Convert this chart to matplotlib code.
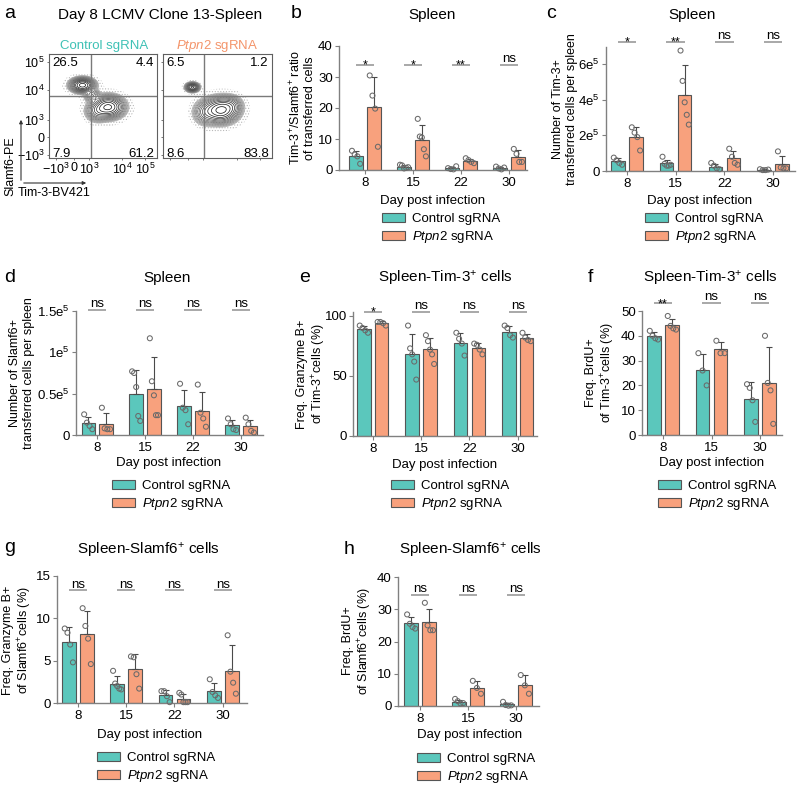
import numpy as np
import matplotlib
matplotlib.use('Agg')
import matplotlib.pyplot as plt
from matplotlib.patches import Patch, FancyArrowPatch

plt.rcParams['font.family'] = ['Liberation Sans', 'DejaVu Sans']
plt.rcParams['mathtext.fontset'] = 'custom'
plt.rcParams['mathtext.rm'] = 'Liberation Sans'
plt.rcParams['mathtext.it'] = 'Liberation Sans:italic'
plt.rcParams['mathtext.bf'] = 'Liberation Sans:bold'
plt.rcParams['font.size'] = 9
plt.rcParams['hatch.linewidth'] = 0.5
plt.rcParams['hatch.color'] = '#b8b8b8'

# ---------------- data ----------------
days4 = ['8', '15', '22', '30']
days3 = ['8', '15', '30']
group_labels = ['Control sgRNA', r'$\mathit{Ptpn2}$ sgRNA']

# panel a: flow quadrant percentages (UL, UR, LL, LR)
flow_ctrl_pct = ['26.5', '4.4', '7.9', '61.2']
flow_ptpn_pct = ['6.5', '1.2', '8.6', '83.8']
# contour populations: centre x, centre y, spread x, spread y, weight (plot-fraction units)
flow_ctrl_cx = [0.31, 0.55, 0.45, 0.40]
flow_ctrl_cy = [0.70, 0.49, 0.45, 0.60]
flow_ctrl_sx = [0.050, 0.065, 0.050, 0.035]
flow_ctrl_sy = [0.031, 0.048, 0.045, 0.030]
flow_ctrl_w = [0.265, 0.50, 0.10, 0.03]
flow_ptpn_cx = [0.27, 0.53, 0.40, 0.62]
flow_ptpn_cy = [0.68, 0.46, 0.44, 0.50]
flow_ptpn_sx = [0.028, 0.070, 0.055, 0.050]
flow_ptpn_sy = [0.020, 0.055, 0.055, 0.045]
flow_ptpn_w = [0.065, 0.64, 0.12, 0.08]
flow_xtick_labels = [r'$-10^{3}$', '0', r'$10^{3}$', r'$10^{4}$', r'$10^{5}$']
flow_ytick_labels = [r'$-10^{3}$', '0', r'$10^{3}$', r'$10^{4}$', r'$10^{5}$']

# panel b: Tim-3+/Slamf6+ ratio
b_ctrl = [[6.2, 5.0, 4.4, 2.0], [1.7, 1.5, 0.5, 0.7, 0.9], [0.6, 0.3, 0.2, 1.2], [1.1, 0.5, 0.2, 0.8]]
b_ptpn = [[30.5, 24.0, 19.8, 7.5], [16.5, 10.8, 10.5, 6.7, 4.4], [3.8, 3.2, 2.6, 2.2], [6.8, 5.2, 2.6, 2.6]]
b_sig = ['*', '*', '**', 'ns']

# panel c: number of Tim-3+ transferred cells
c_ctrl = [[0.75e5, 0.60e5, 0.45e5, 0.35e5], [0.80e5, 0.40e5, 0.30e5, 0.30e5, 0.35e5],
          [0.45e5, 0.30e5, 0.15e5, 0.10e5], [0.10e5, 0.05e5, 0.05e5, 0.08e5]]
c_ptpn = [[2.45e5, 2.15e5, 1.90e5, 1.15e5], [6.75e5, 5.05e5, 3.85e5, 3.15e5, 2.60e5],
          [1.25e5, 0.80e5, 0.45e5, 0.35e5], [1.10e5, 0.20e5, 0.15e5, 0.15e5]]
c_sig = ['*', '**', 'ns', 'ns']
c_yticks = [0, 2e5, 4e5, 6e5]
c_yticklabels = ['0', r'2e$^{5}$', r'4e$^{5}$', r'6e$^{5}$']

# panel d: number of Slamf6+ transferred cells
d_ctrl = [[0.25e5, 0.15e5, 0.11e5, 0.07e5], [0.77e5, 0.75e5, 0.58e5, 0.23e5, 0.17e5],
          [0.62e5, 0.33e5, 0.30e5, 0.13e5], [0.20e5, 0.13e5, 0.07e5, 0.06e5]]
d_ptpn = [[0.33e5, 0.08e5, 0.07e5, 0.07e5], [1.17e5, 0.65e5, 0.48e5, 0.24e5, 0.24e5],
          [0.61e5, 0.27e5, 0.20e5, 0.10e5], [0.21e5, 0.13e5, 0.05e5, 0.03e5]]
d_sig = ['ns', 'ns', 'ns', 'ns']
d_yticks = [0, 0.5e5, 1e5, 1.5e5]
d_yticklabels = ['0', r'0.5e$^{5}$', r'1e$^{5}$', r'1.5e$^{5}$']

# panel e: Granzyme B+ of Tim-3+ (%)
e_ctrl = [[92, 90, 88, 86], [92, 73, 68, 62, 47], [86, 81, 77, 67], [92, 90, 84, 82]]
e_ptpn = [[95, 95, 94, 92], [84, 79, 72, 68, 60], [77, 76, 72, 68], [86, 82, 80, 79]]
e_sig = ['*', 'ns', 'ns', 'ns']

# panel f: BrdU+ of Tim-3+ (%)
f_ctrl = [[42, 40, 39, 38.5], [33, 26, 20], [20.5, 19, 14, 5.3]]
f_ptpn = [[48, 44, 43, 42.5], [38, 33, 33], [40, 21, 18, 4.5]]
f_sig = ['**', 'ns', 'ns']

# panel g: Granzyme B+ of Slamf6+ (%)
g_ctrl = [[8.8, 8.3, 6.9, 4.8], [3.8, 2.3, 2.0, 1.7, 1.6], [1.4, 1.4, 0.8, 0.1], [2.8, 1.3, 0.9, 0.6]]
g_ptpn = [[11.2, 9.1, 7.6, 4.6], [5.5, 5.4, 3.4, 1.7], [1.2, 1.0, 0.1, 0.1, 0.1], [8.0, 3.7, 2.4, 1.1]]
g_sig = ['ns', 'ns', 'ns', 'ns']

# panel h: BrdU+ of Slamf6+ (%)
h_ctrl = [[28.4, 25.5, 24.5, 24.0], [2.2, 1.5, 0.8, 0.9], [1.3, 0.3, 0.1, 0.2]]
h_ptpn = [[32, 25, 23.5, 23.5], [7.8, 5.6, 3.8], [9.6, 6.4, 3.8]]
h_sig = ['ns', 'ns', 'ns']

# ---------------- style ----------------
TEAL = '#5BC7BC'
ORANGE = '#F8A17D'
TEAL_TXT = '#3EC1B5'
ORANGE_TXT = '#F4956B'
EDGE = '#555555'
SPINE = '#808080'
BW = 0.28
OFF = 0.185

W, H = 800, 789
fig = plt.figure(figsize=(8, 7.89), dpi=100)


def fx(x):
    return x / W


def fy(y):
    return 1 - y / H


def ftext(x, y, s, **kw):
    return fig.text(fx(x), fy(y), s, **kw)


def add_axes(L, R, T, B):
    return fig.add_axes([L / W, 1 - B / H, (R - L) / W, (B - T) / H])


def bar_panel(box, days, ctrl, ptpn, ylim, xlim, sigs, sig_y, yticks=None, yticklabels=None):
    ax = add_axes(*box)
    x = np.arange(len(days))
    for data, off, col in [(ctrl, -OFF, TEAL), (ptpn, OFF, ORANGE)]:
        for i, pts in enumerate(data):
            pts = np.asarray(pts, float)
            m = pts.mean()
            sd = pts.std(ddof=1)
            ax.bar(x[i] + off, m, width=BW, color=col, edgecolor=EDGE, linewidth=0.8, zorder=2)
            ax.errorbar(x[i] + off, m, yerr=[[0], [sd]], fmt='none', ecolor='#4a4a4a',
                        elinewidth=0.8, capsize=2.5, capthick=0.8, zorder=3)
            jit = np.linspace(-0.085, 0.085, len(pts))
            ax.scatter(x[i] + off + jit, pts, s=13, facecolors='none', edgecolors='#6a6a6a',
                       linewidths=0.75, zorder=4, clip_on=False)
    ax.set_xlim(*xlim)
    ax.set_ylim(*ylim)
    ax.set_xticks(x)
    ax.set_xticklabels(days)
    if yticks is not None:
        ax.set_yticks(yticks)
        ax.set_yticklabels(yticklabels)
    for s in ['top', 'right']:
        ax.spines[s].set_visible(False)
    for s in ['left', 'bottom']:
        ax.spines[s].set_color(SPINE)
        ax.spines[s].set_linewidth(1.0)
    ax.tick_params(direction='out', length=3, width=0.8, color=SPINE, labelsize=9.5, pad=2)
    ax.tick_params(axis='y', pad=1.5)
    for i, s in enumerate(sigs):
        ax.plot([x[i] - 0.19, x[i] + 0.19], [sig_y, sig_y], color='#9a9a9a', lw=1.2,
                clip_on=False, solid_capstyle='butt')
        if s == 'ns':
            ax.annotate(s, (x[i], sig_y), xytext=(0, 2), textcoords='offset points',
                        ha='center', va='baseline', fontsize=9.5, annotation_clip=False)
        else:
            ax.annotate(s, (x[i], sig_y), xytext=(0, -2.8), textcoords='offset points',
                        ha='center', va='baseline', fontsize=9, annotation_clip=False)
    return ax


def legend_at(px, py_center):
    handles = [Patch(facecolor=TEAL, edgecolor=EDGE, linewidth=0.8),
               Patch(facecolor=ORANGE, edgecolor=EDGE, linewidth=0.8)]
    fig.legend(handles, group_labels, loc='upper left', bbox_to_anchor=(fx(px), fy(py_center - 7)),
               bbox_transform=fig.transFigure, frameon=False, borderpad=0, borderaxespad=0,
               handlelength=1.75, handleheight=0.65, handletextpad=0.5, labelspacing=0.3,
               fontsize=9.5)


def flow_panel(box, cx, cy, sx, sy, w, pct, qx, qy, labels):
    ax = add_axes(*box)
    g = np.linspace(0, 1, 320)
    gx, gy = np.meshgrid(g, g)
    dens = np.zeros_like(gx)
    halo = np.zeros_like(gx)
    for a, b, c, d, e in zip(cx, cy, sx, sy, w):
        dens += e / (c * d) * np.exp(-0.5 * (((gx - a) / c) ** 2 + ((gy - b) / d) ** 2))
        halo += e / (c * d) * np.exp(-0.5 * (((gx - a) / (1.35 * c)) ** 2 + ((gy - b) / (1.35 * d)) ** 2))
    peak = dens.max()
    hp = halo.max()
    ax.contourf(gx, gy, halo, levels=[hp * 0.02, hp * 0.3], colors='none',
                hatches=['......'])
    lv = peak * np.geomspace(0.012, 0.85, 14)
    cols = plt.cm.Greys(np.linspace(0.42, 0.97, len(lv)))
    ax.contour(gx, gy, dens, levels=lv, colors=cols, linewidths=0.5)
    ax.axvline(qx, color='#7a7a7a', lw=1.0)
    ax.axhline(qy, color='#7a7a7a', lw=1.0)
    ax.set_xlim(0, 1)
    ax.set_ylim(0, 1)
    for s in ax.spines.values():
        s.set_color('#606060')
        s.set_linewidth(0.8)
    ax.set_xticks([0.064, 0.23, 0.37, 0.68, 0.89])
    ax.set_yticks([0.03, 0.2, 0.37, 0.65, 0.92])
    ax.tick_params(direction='out', length=1.5, width=0.6, color='#606060', labelsize=9, pad=1.5)
    if labels:
        ax.set_xticklabels(flow_xtick_labels)
        ax.set_yticklabels(flow_ytick_labels)
    else:
        ax.set_xticklabels([])
        ax.set_yticklabels([])
    kw = dict(fontsize=9.5, transform=ax.transAxes)
    ax.text(0.03, 0.91, pct[0], ha='left', va='center', **kw)
    ax.text(0.97, 0.91, pct[1], ha='right', va='center', **kw)
    ax.text(0.03, 0.04, pct[2], ha='left', va='center', **kw)
    ax.text(0.97, 0.04, pct[3], ha='right', va='center', **kw)
    return ax


# ---------------- panel a ----------------
flow_panel((49, 157, 54, 158), flow_ctrl_cx, flow_ctrl_cy, flow_ctrl_sx, flow_ctrl_sy,
           flow_ctrl_w, flow_ctrl_pct, 0.39, 0.60, True)
flow_panel((163, 272, 54, 158), flow_ptpn_cx, flow_ptpn_cy, flow_ptpn_sx, flow_ptpn_sy,
           flow_ptpn_w, flow_ptpn_pct, 0.375, 0.60, False)
ftext(104, 46, 'Control sgRNA', ha='center', va='center', color=TEAL_TXT, fontsize=9.5)
ftext(217, 46, r'$\mathit{Ptpn2}$ sgRNA', ha='center', va='center', color=ORANGE_TXT, fontsize=9.5)
ftext(58, 15, 'Day 8 LCMV Clone 13-Spleen', ha='left', va='center', fontsize=11)
fig.add_artist(FancyArrowPatch((fx(21), fy(183)), (fx(21), fy(117)),
               transform=fig.transFigure, arrowstyle='-|>', mutation_scale=5, lw=0.8, color='#333'))
fig.add_artist(FancyArrowPatch((fx(21), fy(183)), (fx(89), fy(183)),
               transform=fig.transFigure, arrowstyle='-|>', mutation_scale=5, lw=0.8, color='#333'))
ftext(10, 166, 'Slamf6-PE', rotation=90, ha='center', va='center', fontsize=9)
ftext(18, 193, 'Tim-3-BV421', ha='left', va='center', fontsize=9)

# ---------------- panel b ----------------
bar_panel((339, 527, 46, 170), days4, b_ctrl, b_ptpn, (0, 40), (-0.54, 3.375), b_sig, 34,
          [0, 10, 20, 30, 40], ['0', '10', '20', '30', '40'])
ftext(302, 108, 'Tim-3$^{+}$/Slamf6$^{+}$ ratio\nof transferred cells', rotation=90,
      ha='center', va='center', fontsize=9, linespacing=1.1)
ftext(433, 201, 'Day post infection', ha='center', va='center', fontsize=9.5)
legend_at(382, 220)

# ---------------- panel c ----------------
bar_panel((606, 795, 47, 171), days4, c_ctrl, c_ptpn, (0, 6.95e5), (-0.43, 3.45), c_sig, 7.23e5,
          c_yticks, c_yticklabels)
ftext(565, 109, 'Number of Tim-3+\ntransferred cells per spleen', rotation=90,
      ha='center', va='center', fontsize=9, linespacing=1.15)
ftext(700, 201, 'Day post infection', ha='center', va='center', fontsize=9.5)
legend_at(645, 220)

# ---------------- panel d ----------------
bar_panel((76, 263, 311, 435), days4, d_ctrl, d_ptpn, (0, 1.5e5), (-0.44, 3.46), d_sig, 1.51e5,
          d_yticks, d_yticklabels)
ftext(22, 373, 'Number of Slamf6+\ntransferred cells per spleen', rotation=90,
      ha='center', va='center', fontsize=9, linespacing=1.15)
ftext(169, 463, 'Day post infection', ha='center', va='center', fontsize=9.5)
legend_at(112, 487)

# ---------------- panel e ----------------
bar_panel((353, 537, 312, 436), days4, e_ctrl, e_ptpn, (0, 103.3), (-0.41, 3.4), e_sig, 103.3,
          [0, 50, 100], ['0', '50', '100'])
ftext(312, 374, 'Freq. Granzyme B+\nof Tim-3$^{+}$cells (%)', rotation=90,
      ha='center', va='center', fontsize=9, linespacing=1.15)
ftext(445, 465, 'Day post infection', ha='center', va='center', fontsize=9.5)
legend_at(391, 487)

# ---------------- panel f ----------------
bar_panel((642, 782, 311, 435), days3, f_ctrl, f_ptpn, (0, 50), (-0.43, 2.45), f_sig, 53.2,
          [0, 10, 20, 30, 40, 50], ['0', '10', '20', '30', '40', '50'])
ftext(601, 373, 'Freq. BrdU+\nof Tim-3$^{+}$cells (%)', rotation=90,
      ha='center', va='center', fontsize=9, linespacing=1.15)
ftext(712, 463, 'Day post infection', ha='center', va='center', fontsize=9.5)
legend_at(658, 487)

# ---------------- panel g ----------------
bar_panel((57, 247, 576, 703), days4, g_ctrl, g_ptpn, (0, 15), (-0.43, 3.5), g_sig, 13.3,
          [0, 5, 10, 15], ['0', '5', '10', '15'])
ftext(18, 640, 'Freq. Granzyme B+\nof Slamf6$^{+}$cells (%)', rotation=90,
      ha='center', va='center', fontsize=9, linespacing=1.15)
ftext(150, 735, 'Day post infection', ha='center', va='center', fontsize=9.5)
legend_at(97, 759)

# ---------------- panel h ----------------
bar_panel((398, 539, 577, 706), days3, h_ctrl, h_ptpn, (0, 40), (-0.46, 2.48), h_sig, 34.4,
          [0, 10, 20, 30, 40], ['0', '10', '20', '30', '40'])
ftext(358, 641, 'Freq. BrdU+\nof Slamf6$^{+}$cells (%)', rotation=90,
      ha='center', va='center', fontsize=9, linespacing=1.15)
ftext(470, 735, 'Day post infection', ha='center', va='center', fontsize=9.5)
legend_at(417, 760)

# ---------------- titles & panel letters ----------------
titles = [(432, 15, 'Spleen'), (692, 15, 'Spleen'), (167, 278, 'Spleen'),
          (445, 278, 'Spleen-Tim-3$^{+}$ cells'), (710, 278, 'Spleen-Tim-3$^{+}$ cells'),
          (148, 550, 'Spleen-Slamf6$^{+}$ cells'), (470, 550, 'Spleen-Slamf6$^{+}$ cells')]
for x, y, s in titles:
    ftext(x, y, s, ha='center', va='center', fontsize=11)

letters = [(4, 14, 'a'), (291, 14, 'b'), (546, 14, 'c'), (4, 278, 'd'), (299, 278, 'e'),
           (588, 278, 'f'), (4, 548, 'g'), (344, 550, 'h')]
for x, y, s in letters:
    ftext(x, y, s, ha='left', va='center', fontsize=14)

fig.savefig('out.png', dpi=100)
